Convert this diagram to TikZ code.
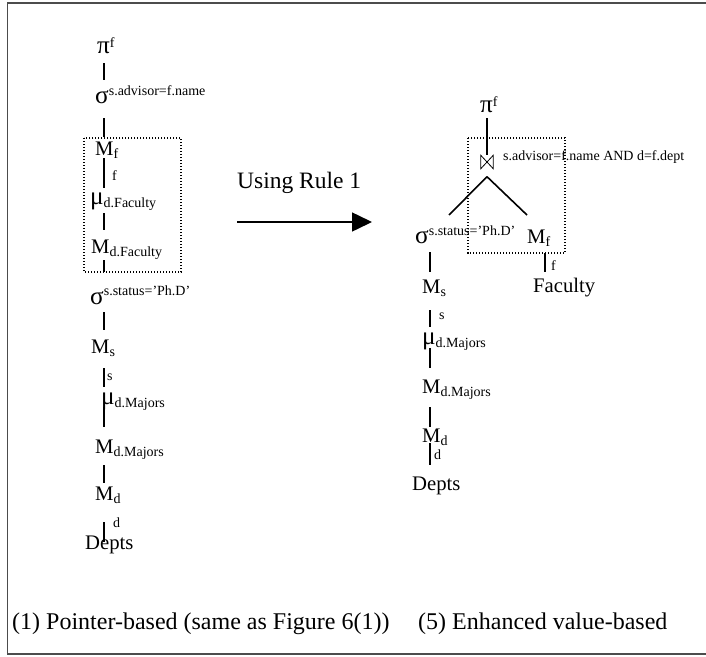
\documentclass[tikz,border=0pt]{standalone}
\usepackage{fontspec}
\usepackage{graphicx}
\setmainfont{Liberation Serif}
\usetikzlibrary{calc,arrows.meta}
\newcommand\bigf{\fontsize{20.7}{24}\selectfont}
\newcommand\smf{\fontsize{14}{16}\selectfont}
\newcommand\gk[1]{\scalebox{1.22}{#1}}
\newcommand\opsub[2]{{\bigf #1}\raisebox{-3pt}{\smf #2}}
\newcommand\opsup[3]{{\bigf #1}\raisebox{#3}{\smf #2}}
\newcommand\conn[5]{\draw[edge] ($(#1.base -| #5)+(0,#2)$) -- ($(#3.base -| #5)+(0,#4)$);}
\begin{document}
\begin{tikzpicture}[x=1pt,y=-1pt,
  op/.style={anchor=base west,inner sep=0pt,font=\bigf},
  lab/.style={anchor=base west,inner sep=0pt,font=\smf},
  captext/.style={anchor=base west,inner sep=0pt,font=\fontsize{24}{28}\selectfont},
  edge/.style={line width=1.6pt},
  dotbox/.style={line width=1.3pt,dash pattern=on 1.4pt off 1.6pt},
  frame/.style={line width=1.6pt,black!70}]
\useasboundingbox (0,0) rectangle (706,656);
\draw[frame] (7.5,3) rectangle (716,654);
% ---------- left tree ----------
\coordinate (Lx) at (104,0);
\node[op] (pi)   at (97,53)  {\opsup{\gk{π}}{f}{6pt}};
\node[op] (sig1) at (95,103) {\opsup{\gk{σ}}{s.advisor=f.name}{8pt}};
\node[op] (Mf)   at (95,155) {\opsub{M}{f}};
\node[op] (mu1)  at (90,204) {\opsub{\gk{μ}}{d.Faculty}};
\node[op] (MdF)  at (91,253) {\opsub{M}{d.Faculty}};
\node[op] (sig2) at (90,304) {\opsup{\gk{σ}}{s.status=’Ph.D’}{9pt}};
\node[op] (Ms)   at (91,353) {\opsub{M}{s}};
\node[op] (mu2)  at (101,404) {\opsub{\gk{μ}}{d.Majors}};
\node[op] (MdM)  at (95,453) {\opsub{M}{d.Majors}};
\node[op] (Md)   at (95,500) {\opsub{M}{d}};
\node[op] (Depts) at (85,549) {Depts};
\node[lab] (lf) at (112,180) {f};
\node[lab] (ls) at (107,380) {s};
\node[lab] (ld) at (113,527) {d};
\conn{pi}{10}{sig1}{-23}{Lx}
\conn{sig1}{15}{Mf}{-18}{Lx}
\conn{Mf}{3}{mu1}{-16}{Lx}
\conn{mu1}{9}{MdF}{-23}{Lx}
\conn{MdF}{7}{sig2}{-32}{Lx}
\conn{sig2}{8}{Ms}{-23}{Lx}
\conn{Ms}{15}{mu2}{-17}{Lx}
\conn{mu2}{3}{MdM}{-26}{Lx}
\conn{MdM}{12}{Md}{-17}{Lx}
\conn{Md}{22}{Depts}{-7}{Lx}
\draw[dotbox] (84,138) rectangle (181,272);
% ---------- arrow ----------
\node[anchor=base west,inner sep=0pt,font=\fontsize{23.5}{26}\selectfont] (rule) at (237,188) {Using Rule 1};
\coordinate (as) at ($(rule.base west)+(0,34)$);
\coordinate (ae) at ($(rule.base west)+(135,34)$);
\draw[line width=1.5pt,-{Triangle[length=20pt,width=19pt]}] (as) -- (ae);
% ---------- right tree ----------
\coordinate (Rx) at (430,0);
\coordinate (Fx) at (545,0);
\coordinate (Px) at (487,0);
\node[op] (piR)  at (480,112) {\opsup{\gk{π}}{f}{6pt}};
\node[inner sep=0pt,minimum width=12pt,minimum height=13pt] (bt) at (487,162) {};
\draw[line width=0.8pt] (bt.north west) -- (bt.south east) -- (bt.north east) -- (bt.south west) -- cycle;
\node[lab] (cond) at (503,160) {s.advisor=f.name AND d=f.dept};
\node[op] (sigR) at (415,243) {\opsup{\gk{σ}}{s.status=’Ph.D’}{8pt}};
\node[op] (MfR)  at (527,243) {\opsub{M}{f}};
\node[op] (MsR)  at (422,293) {\opsub{M}{s}};
\node[op] (Fac)  at (533,292) {Faculty};
\node[op] (muR)  at (422,344) {\opsub{\gk{μ}}{d.Majors}};
\node[op] (MdMR) at (422,393) {\opsub{M}{d.Majors}};
\node[op] (MdR)  at (422,442) {\opsub{M}{d}};
\node[op] (DeptsR) at (412,490) {Depts};
\node[lab] (rf) at (551,270) {f};
\node[lab] (rs) at (439,319) {s};
\node[lab] (rd) at (434,459) {d};
\draw[edge] ($(piR.base -| Px)+(0,6)$) -- (bt.north);
\coordinate (apex) at ($(bt.south)+(0,8)$);
\draw[edge] (apex) -- ($(sigR.base west)+(34,-28)$);
\draw[edge] (apex) -- ($(MfR.base west)+(0,-28)$);
\conn{sigR}{9}{MsR}{-21}{Rx}
\conn{MfR}{10}{Fac}{-20}{Fx}
\conn{MsR}{17}{muR}{-17}{Rx}
\conn{muR}{4}{MdMR}{-25}{Rx}
\conn{MdMR}{14}{MdR}{-15}{Rx}
\conn{MdR}{1}{DeptsR}{-25}{Rx}
\draw[dotbox] (468,138) rectangle (565,253);
% ---------- captions ----------
\node[captext] (cap1) at (12,629) {(1) Pointer-based (same as Figure 6(1))};
\node[captext] (cap5) at (418,629) {(5) Enhanced value-based};
\end{tikzpicture}
\end{document}
